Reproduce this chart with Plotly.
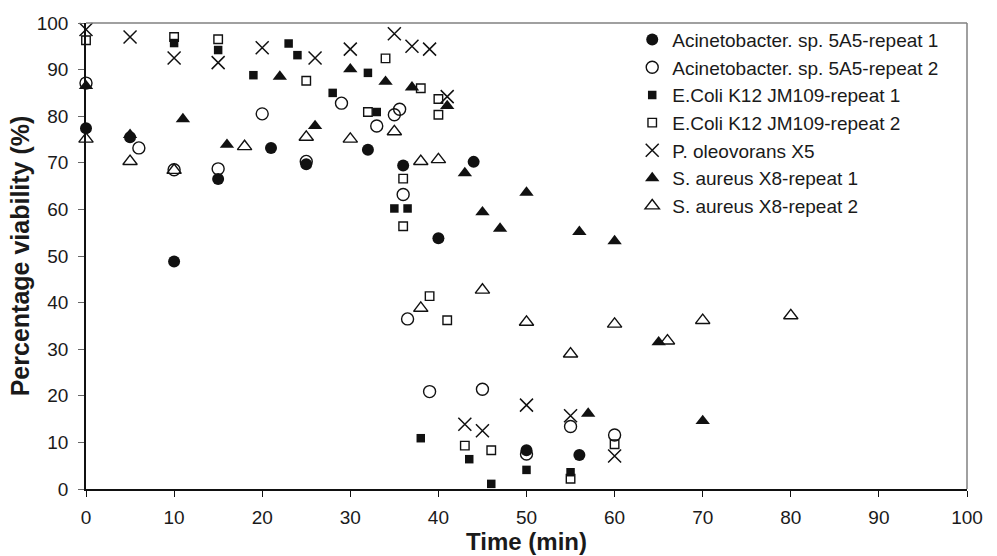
import plotly.graph_objects as go

# Viability time courses (time in min, viability in %)
acin1_x = [0, 5, 10, 15, 21, 25, 32, 36, 40, 44, 50, 56]
acin1_y = [77.4, 75.5, 48.8, 66.5, 73.2, 69.7, 72.8, 69.4, 53.8, 70.2, 8.3, 7.3]

acin2_x = [0, 6, 10, 15, 20, 25, 29, 33, 35, 35.6, 36, 36.5, 39, 45, 50, 55, 60]
acin2_y = [87.1, 73.2, 68.5, 68.7, 80.5, 70.3, 82.8, 77.9, 80.3, 81.5, 63.2, 36.5, 20.9, 21.4, 7.5, 13.4, 11.6]

ecoli1_x = [10, 15, 19, 23, 24, 28, 32, 33, 35, 36.5, 38, 43.5, 46, 50, 55]
ecoli1_y = [95.7, 94.2, 88.8, 95.6, 93.1, 85.0, 89.3, 80.9, 60.2, 60.2, 10.9, 6.4, 1.1, 4.1, 3.6]

ecoli2_x = [0, 10, 15, 25, 32, 34, 36, 36, 38, 39, 40, 40, 41, 43, 46, 55, 60]
ecoli2_y = [96.3, 97.0, 96.5, 87.6, 80.9, 92.4, 66.6, 56.4, 86.0, 41.4, 83.7, 80.3, 36.2, 9.3, 8.3, 2.2, 9.6]

pole_x = [0, 5, 10, 15, 20, 26, 30, 35, 37, 39, 41, 43, 45, 50, 55, 60]
pole_y = [98.6, 97.0, 92.5, 91.5, 94.7, 92.5, 94.4, 97.7, 95.0, 94.4, 84.2, 13.9, 12.5, 18.0, 15.7, 7.1]

saur1_x = [0, 5, 11, 16, 22, 26, 30, 34, 37, 41, 43, 45, 47, 50, 56, 57, 60, 65, 70]
saur1_y = [86.5, 76.0, 79.4, 73.9, 88.5, 77.9, 90.1, 87.4, 86.2, 82.2, 67.8, 59.4, 55.9, 63.6, 55.2, 16.2, 53.2, 31.5, 14.6]

saur2_x = [0, 5, 10, 18, 25, 30, 35, 38, 38, 40, 45, 50, 55, 60, 66, 70, 80]
saur2_y = [75.1, 70.3, 68.4, 73.5, 75.5, 75.1, 76.7, 70.3, 38.8, 70.7, 42.7, 35.8, 29.0, 35.4, 31.8, 36.2, 37.2]

names = [
    "Acinetobacter. sp. 5A5-repeat 1",
    "Acinetobacter. sp. 5A5-repeat 2",
    "E.Coli K12 JM109-repeat 1",
    "E.Coli K12 JM109-repeat 2",
    "P. oleovorans X5",
    "S. aureus X8-repeat 1",
    "S. aureus X8-repeat 2",
]

x_ticks = list(range(0, 101, 10))
y_ticks = list(range(0, 101, 10))

INK = "#111111"
FONT = "Liberation Sans, Arial, sans-serif"

series = [
    (acin1_x, acin1_y, dict(symbol="circle", size=12, color=INK, line=dict(width=0))),
    (acin2_x, acin2_y, dict(symbol="circle-open", size=12, color=INK, line=dict(width=1.4, color=INK))),
    (ecoli1_x, ecoli1_y, dict(symbol="square", size=8.5, color=INK, line=dict(width=0))),
    (ecoli2_x, ecoli2_y, dict(symbol="square-open", size=8.5, color=INK, line=dict(width=1.4, color=INK))),
    (pole_x, pole_y, dict(symbol="x-thin", size=13, color=INK, line=dict(width=1.5, color=INK))),
    (saur1_x, saur1_y, dict(symbol="triangle-up", size=12.5, color=INK, line=dict(width=0))),
    (saur2_x, saur2_y, dict(symbol="triangle-up-open", size=12.5, color=INK, line=dict(width=1.4, color=INK))),
]

fig = go.Figure()
for (xs, ys, mk), nm in zip(series, names):
    fig.add_trace(go.Scatter(x=xs, y=ys, mode="markers", name=nm, marker=mk, cliponaxis=False))

fig.update_layout(
    width=997,
    height=556,
    margin=dict(l=85.5, r=30, t=22.7, b=64.5),
    paper_bgcolor="white",
    plot_bgcolor="white",
    font=dict(family=FONT, size=19, color="#1a1a1a"),
    showlegend=True,
    legend=dict(
        x=0.62, xanchor="left",
        y=1.005, yanchor="top",
        bgcolor="rgba(0,0,0,0)",
        borderwidth=0,
        font=dict(family=FONT, size=19, color="#1a1a1a"),
    ),
    xaxis=dict(
        range=[0, 100],
        tickvals=x_ticks,
        ticks="outside",
        ticklen=6,
        tickcolor=INK,
        tickwidth=1,
        ticklabelstandoff=4,
        showline=True,
        linecolor=INK,
        linewidth=1.5,
        showgrid=False,
        zeroline=False,
        tickfont=dict(size=19),
        title=dict(text="<b>Time (min)</b>", font=dict(size=24), standoff=0),
    ),
    yaxis=dict(
        range=[0, 100],
        tickvals=y_ticks,
        ticks="outside",
        ticklen=6,
        tickcolor="#666666",
        tickwidth=1,
        ticklabelstandoff=6,
        showline=True,
        linecolor=INK,
        linewidth=1.5,
        showgrid=False,
        zeroline=False,
        tickfont=dict(size=19),
        title=dict(text="<b>Percentage viability (%)</b>", font=dict(size=25), standoff=0),
    ),
    shapes=[
        dict(type="line", xref="paper", yref="paper", x0=0, x1=1, y0=1, y1=1,
             line=dict(color="#808080", width=1.5)),
        dict(type="line", xref="paper", yref="paper", x0=1, x1=1, y0=0, y1=1,
             line=dict(color="#808080", width=1.5)),
    ],
)

fig.write_html("out.html")
